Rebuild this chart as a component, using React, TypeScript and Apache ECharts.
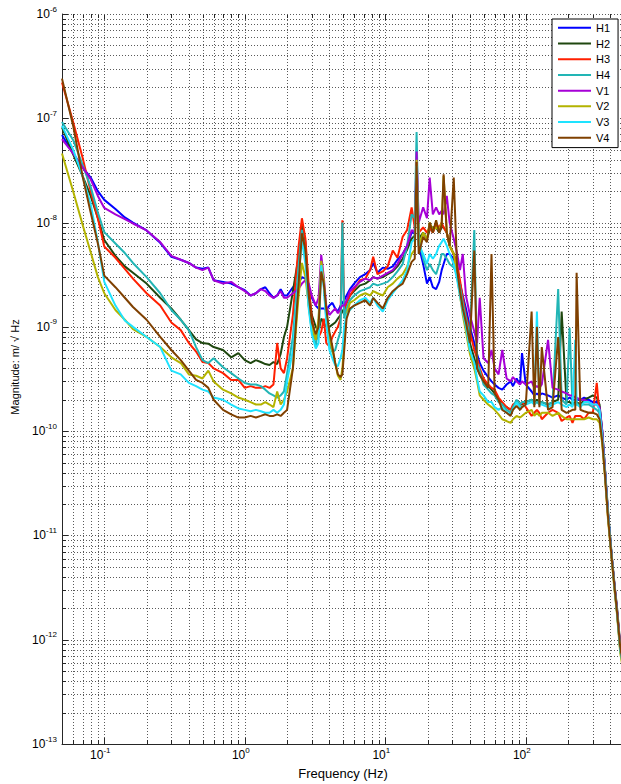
import React, { useEffect, useRef } from 'react';
import * as echarts from 'echarts';

// Frequency grid (Hz)
const freqs = [
  0.05, 0.06, 0.07, 0.08, 0.09, 0.1, 0.12, 0.14, 0.16, 0.2, 0.25, 0.3, 0.35, 0.4, 0.45, 0.5, 0.55, 0.6, 0.7, 0.8, 0.9, 1.0, 1.1, 1.2, 1.3, 1.4, 1.5, 1.6, 1.7, 1.8, 1.9,
  2.0, 2.2, 2.4, 2.55, 2.7, 2.85, 3.0, 3.2, 3.35, 3.5, 3.65, 3.8, 4.0, 4.2, 4.4, 4.6, 4.8, 4.95, 5.1, 5.3, 5.6, 6.0, 6.6, 7.2, 7.8, 8.2, 8.8, 9.6, 10.4, 11.3, 12.2, 13.3, 14.3, 15.4, 16.2, 16.7, 17.3, 18.6, 19.8, 20.7, 21.8, 23, 24.2, 25.2, 26, 27.4, 28.7, 30.7,
  32.5, 34, 35.6, 37.5, 40, 43, 45, 47, 50, 54, 57, 60, 64, 68, 73, 78, 81, 86, 91, 94, 100, 110, 115, 120, 125, 130, 144, 155, 170, 180, 195, 205, 215, 225, 230, 245, 260, 280, 300, 320, 335, 350, 365, 385, 410, 430, 445, 470, 500,
];

const h1 = [
  6.9e-8, 4.6e-8, 3.4e-8, 2.7e-8, 2.0e-8, 1.65e-8, 1.35e-8, 1.12e-8, 1.0e-8, 8.4e-9, 6.4e-9, 4.7e-9, 4.4e-9, 4.1e-9, 3.7e-9, 3.6e-9, 3.7e-9, 2.8e-9, 2.7e-9, 2.6e-9, 2.4e-9, 2.25e-9, 2.0e-9, 2.1e-9, 2.3e-9, 2.4e-9, 2.1e-9, 1.9e-9, 2.0e-9, 2.3e-9, 2.0e-9,
  2.0e-9, 2.4e-9, 2.6e-9, 3.0e-9, 2.9e-9, 2.4e-9, 1.9e-9, 1.6e-9, 1.5e-9, 1.5e-9, 1.5e-9, 1.45e-9, 1.6e-9, 1.7e-9, 1.5e-9, 1.4e-9, 1.6e-9, 1.7e-9, 1.8e-9, 2.0e-9, 2.3e-9, 2.6e-9, 3.0e-9, 3.2e-9, 3.5e-9, 4.1e-9, 3.3e-9, 3.7e-9, 3.6e-9, 3.8e-9, 4.4e-9, 5.0e-9, 6.0e-9, 8.0e-9, 8.0e-9, 3.0e-8, 6.0e-9, 4.0e-9, 2.6e-9, 3.0e-9, 2.4e-9, 2.3e-9, 2.7e-9, 3.5e-9, 4.0e-9, 5.0e-9, 5.0e-9, 4.5e-9,
  3.5e-9, 2.6e-9, 2.0e-9, 1.5e-9, 1.0e-9, 7.0e-10, 5.5e-10, 4.5e-10, 3.8e-10, 3.3e-10, 3.0e-10, 2.8e-10, 2.6e-10, 2.5e-10, 2.8e-10, 3.0e-10, 2.7e-10, 3.2e-10, 2.8e-10, 5.6e-10, 2.8e-10, 2.4e-10, 2.2e-10, 2.3e-10, 2.2e-10, 2.3e-10, 2.2e-10, 2.1e-10, 2.2e-10, 2.1e-10, 2.0e-10, 2.1e-10, 2.0e-10, 2.0e-10, 2.0e-10, 2.0e-10, 2.1e-10, 2.0e-10, 1.9e-10, 1.9e-10, 1.7e-10, 1.0e-10, 4.5e-11, 1.6e-11, 6.0e-12, 3.1e-12, 2.0e-12, 8.5e-13, 5.0e-13,
];

const h2 = [
  8.2e-8, 4.5e-8, 2.8e-8, 1.8e-8, 1.1e-8, 6.8e-9, 4.8e-9, 3.8e-9, 3.3e-9, 2.6e-9, 1.9e-9, 1.5e-9, 1.17e-9, 9.3e-10, 7.6e-10, 7.0e-10, 6.9e-10, 6.4e-10, 6.0e-10, 5.1e-10, 5.6e-10, 4.8e-10, 4.5e-10, 4.8e-10, 4.6e-10, 4.4e-10, 4.3e-10, 4.6e-10, 4.4e-10, 5.5e-10, 8.0e-10,
  1.0e-9, 2.2e-9, 4.5e-9, 9.9e-9, 6.5e-9, 2.2e-9, 1.3e-9, 1.0e-9, 9.0e-10, 1.2e-9, 1.1e-9, 1.0e-9, 1.0e-9, 1.05e-9, 1.1e-9, 1.2e-9, 1.3e-9, 1.4e-9, 1.5e-9, 1.7e-9, 2.0e-9, 2.2e-9, 2.5e-9, 2.6e-9, 2.8e-9, 3.0e-9, 2.9e-9, 3.0e-9, 3.2e-9, 3.4e-9, 3.8e-9, 4.5e-9, 5.5e-9, 7.0e-9, 7.5e-9, 3.2e-8, 7.0e-9, 8.0e-9, 7.0e-9, 8.5e-9, 9.0e-9, 9.0e-9, 8.0e-9, 9.0e-9, 9.0e-9, 8.0e-9, 6.0e-9, 5.0e-9,
  3.5e-9, 2.6e-9, 1.8e-9, 1.1e-9, 7.0e-10, 5.0e-10, 4.0e-10, 3.5e-10, 3.0e-10, 2.7e-10, 2.5e-10, 2.3e-10, 2.0e-10, 1.8e-10, 1.7e-10, 1.6e-10, 1.7e-10, 1.9e-10, 1.8e-10, 1.8e-10, 1.9e-10, 2.0e-10, 1.9e-10, 2.0e-10, 1.9e-10, 1.9e-10, 1.8e-10, 1.9e-10, 2.0e-10, 1.4e-9, 1.9e-10, 1.9e-10, 1.8e-10, 1.9e-10, 1.9e-10, 1.8e-10, 2.0e-10, 2.1e-10, 2.2e-10, 2.1e-10, 1.8e-10, 1.0e-10, 4.6e-11, 1.7e-11, 6.2e-12, 3.2e-12, 2.1e-12, 9.0e-13, 5.5e-13,
];

const h3 = [
  2.2e-7, 9.2e-8, 4.2e-8, 2.0e-8, 1.1e-8, 5.9e-9, 4.6e-9, 3.6e-9, 2.9e-9, 2.1e-9, 1.6e-9, 1.1e-9, 9.3e-10, 7.0e-10, 5.8e-10, 4.6e-10, 4.5e-10, 4.0e-10, 3.6e-10, 3.1e-10, 3.1e-10, 2.6e-10, 2.7e-10, 2.6e-10, 2.6e-10, 2.7e-10, 2.6e-10, 2.8e-10, 7.0e-10, 4.0e-10, 3.6e-10,
  5.0e-10, 1.3e-9, 5.5e-9, 1.1e-8, 7.0e-9, 2.5e-9, 1.2e-9, 7.5e-10, 8.0e-10, 9.0e-10, 1.2e-9, 7.0e-10, 6.5e-10, 8.0e-10, 9.0e-10, 1.0e-9, 1.2e-9, 1.05e-8, 1.4e-9, 1.7e-9, 2.0e-9, 2.3e-9, 2.8e-9, 2.9e-9, 3.5e-9, 4.7e-9, 3.2e-9, 3.4e-9, 3.8e-9, 5.4e-9, 4.6e-9, 7.3e-9, 8.5e-9, 1.4e-8, 9.0e-9, 3.0e-8, 8.0e-9, 9.0e-9, 8.0e-9, 9.0e-9, 8.0e-9, 9.5e-9, 9.0e-9, 1.0e-8, 9.0e-9, 8.0e-9, 6.0e-9, 5.0e-9,
  4.0e-9, 2.8e-9, 1.9e-9, 1.3e-9, 9.0e-10, 6.0e-10, 5.0e-10, 4.0e-10, 3.2e-10, 2.8e-10, 2.6e-10, 2.5e-10, 2.1e-10, 1.9e-10, 1.7e-10, 1.6e-10, 1.8e-10, 1.9e-10, 1.8e-10, 1.9e-10, 1.7e-10, 1.4e-10, 1.5e-10, 1.6e-10, 1.5e-10, 1.3e-10, 1.5e-10, 1.6e-10, 1.5e-10, 1.25e-10, 1.35e-10, 1.4e-10, 1.2e-10, 1.4e-10, 1.4e-10, 1.4e-10, 1.3e-10, 1.5e-10, 1.5e-10, 2.9e-10, 1.4e-10, 8.5e-11, 4.2e-11, 1.5e-11, 6.0e-12, 3.0e-12, 1.9e-12, 8.0e-13, 5.0e-13,
];

const h4 = [
  9.2e-8, 6.2e-8, 3.6e-8, 2.2e-8, 1.25e-8, 8.1e-9, 6.3e-9, 5.1e-9, 4.1e-9, 3.0e-9, 2.1e-9, 1.45e-9, 1.17e-9, 9.3e-10, 6.4e-10, 4.8e-10, 4.5e-10, 5.0e-10, 4.1e-10, 3.6e-10, 3.2e-10, 2.9e-10, 2.8e-10, 2.8e-10, 2.7e-10, 2.5e-10, 2.3e-10, 2.2e-10, 2.1e-10, 2.2e-10, 2.4e-10,
  3.6e-10, 8.0e-10, 3.5e-9, 8.5e-9, 5.0e-9, 1.6e-9, 9.0e-10, 6.5e-10, 1.1e-9, 4.1e-9, 2.5e-9, 1.2e-9, 7.0e-10, 5.7e-10, 6.0e-10, 7.5e-10, 9.0e-10, 1.0e-8, 1.2e-9, 1.5e-9, 1.8e-9, 2.0e-9, 2.2e-9, 2.3e-9, 2.4e-9, 2.6e-9, 2.5e-9, 2.6e-9, 2.7e-9, 3.0e-9, 3.4e-9, 4.0e-9, 6.0e-9, 1.2e-8, 1.1e-8, 7.4e-8, 7.0e-9, 4.5e-9, 3.5e-9, 4.0e-9, 3.5e-9, 3.2e-9, 4.0e-9, 5.0e-9, 5.0e-9, 4.5e-9, 4.0e-9, 3.7e-9,
  3.2e-9, 2.4e-9, 1.7e-9, 1.2e-9, 8.0e-10, 8.5e-9, 4.5e-10, 3.8e-10, 2.8e-10, 2.5e-10, 2.3e-10, 2.2e-10, 1.9e-10, 1.8e-10, 1.6e-10, 1.5e-10, 1.7e-10, 2.0e-10, 1.8e-10, 1.9e-10, 1.9e-10, 2.0e-10, 1.8e-10, 1.9e-10, 1.8e-10, 1.9e-10, 1.8e-10, 1.9e-10, 2.3e-9, 2.0e-10, 1.8e-10, 9.8e-10, 1.8e-10, 1.8e-10, 1.8e-10, 1.8e-10, 1.8e-10, 1.8e-10, 1.7e-10, 1.6e-10, 1.5e-10, 9.0e-11, 4.4e-11, 1.6e-11, 6.0e-12, 3.0e-12, 1.9e-12, 8.0e-13, 5.0e-13,
];

const v1 = [
  6.3e-8, 4.6e-8, 3.4e-8, 2.6e-8, 1.8e-8, 1.38e-8, 1.2e-8, 1.08e-8, 9.8e-9, 8.4e-9, 6.5e-9, 4.8e-9, 4.4e-9, 4.1e-9, 3.7e-9, 3.5e-9, 3.7e-9, 2.8e-9, 2.6e-9, 2.7e-9, 2.4e-9, 2.2e-9, 2.0e-9, 2.1e-9, 2.3e-9, 2.2e-9, 2.0e-9, 1.9e-9, 2.0e-9, 2.2e-9, 1.9e-9,
  1.9e-9, 2.1e-9, 2.3e-9, 2.6e-9, 2.8e-9, 2.6e-9, 2.0e-9, 1.6e-9, 1.9e-9, 4.9e-9, 3.0e-9, 1.6e-9, 1.3e-9, 1.4e-9, 1.5e-9, 1.35e-9, 1.5e-9, 1.6e-9, 1.6e-9, 1.8e-9, 2.2e-9, 2.4e-9, 2.7e-9, 2.9e-9, 2.8e-9, 3.0e-9, 2.9e-9, 3.1e-9, 3.3e-9, 3.5e-9, 4.0e-9, 5.0e-9, 6.0e-9, 8.5e-9, 8.0e-9, 4.8e-8, 1.0e-8, 1.4e-8, 1.1e-8, 2.7e-8, 1.2e-8, 1.4e-8, 1.2e-8, 1.3e-8, 1.2e-8, 1.8e-8, 1.0e-8, 7.0e-9,
  5.0e-9, 3.5e-9, 5.0e-9, 2.0e-9, 1.3e-9, 9.0e-10, 7.0e-10, 1.9e-9, 5.0e-10, 4.5e-10, 6.0e-10, 4.0e-10, 3.5e-10, 6.0e-10, 3.2e-10, 3.0e-10, 3.3e-10, 3.0e-10, 2.8e-10, 3.0e-10, 2.8e-10, 3.0e-10, 2.6e-10, 2.7e-10, 2.6e-10, 2.8e-10, 7.5e-10, 2.6e-10, 2.5e-10, 2.4e-10, 2.3e-10, 2.2e-10, 2.2e-10, 2.1e-10, 2.1e-10, 2.0e-10, 2.0e-10, 1.9e-10, 1.8e-10, 1.8e-10, 1.7e-10, 1.0e-10, 4.5e-11, 1.6e-11, 6.0e-12, 3.1e-12, 2.0e-12, 8.5e-13, 5.0e-13,
];

const v2 = [
  4.6e-8, 2.0e-8, 9.6e-9, 5.2e-9, 3.0e-9, 2.1e-9, 1.45e-9, 1.17e-9, 9.5e-10, 8.0e-10, 6.4e-10, 5.1e-10, 4.5e-10, 3.5e-10, 3.4e-10, 3.2e-10, 3.8e-10, 3.0e-10, 2.5e-10, 2.3e-10, 2.1e-10, 2.0e-10, 1.9e-10, 1.8e-10, 1.8e-10, 1.9e-10, 1.8e-10, 1.7e-10, 2.4e-10, 1.8e-10, 2.0e-10,
  2.4e-10, 4.0e-10, 1.8e-9, 4.1e-9, 3.0e-9, 1.6e-9, 1.0e-9, 7.5e-10, 1.2e-9, 4.3e-9, 2.8e-9, 1.4e-9, 8.0e-10, 6.0e-10, 4.5e-10, 3.4e-10, 3.1e-10, 4.0e-10, 7.0e-10, 1.3e-9, 1.7e-9, 1.8e-9, 2.0e-9, 2.1e-9, 2.0e-9, 2.2e-9, 2.1e-9, 2.0e-9, 2.4e-9, 2.6e-9, 2.9e-9, 3.2e-9, 3.8e-9, 5.0e-9, 5.5e-9, 4.0e-8, 6.0e-9, 8.0e-9, 7.0e-9, 1.0e-8, 8.5e-9, 9.0e-9, 8.5e-9, 1.0e-8, 2.8e-8, 8.0e-9, 6.0e-9, 5.0e-9,
  3.0e-9, 2.0e-9, 1.3e-9, 9.0e-10, 5.5e-10, 4.0e-10, 3.0e-10, 2.2e-10, 2.0e-10, 1.8e-10, 1.7e-10, 1.6e-10, 1.45e-10, 1.3e-10, 1.25e-10, 1.2e-10, 1.3e-10, 1.4e-10, 1.35e-10, 1.4e-10, 1.5e-10, 1.6e-10, 1.4e-10, 1.5e-10, 1.4e-10, 1.5e-10, 1.5e-10, 1.4e-10, 1.5e-10, 1.4e-10, 1.3e-10, 1.3e-10, 1.3e-10, 1.3e-10, 1.3e-10, 1.3e-10, 1.3e-10, 1.35e-10, 1.3e-10, 1.3e-10, 1.2e-10, 7.5e-11, 3.8e-11, 1.4e-11, 5.5e-12, 2.8e-12, 1.8e-12, 7.5e-13, 4.5e-13,
];

const v3 = [
  8.5e-8, 5.0e-8, 2.8e-8, 1.5e-8, 6.5e-9, 2.7e-9, 1.6e-9, 1.15e-9, 1.0e-9, 8.0e-10, 6.4e-10, 3.8e-10, 3.5e-10, 2.9e-10, 2.7e-10, 2.5e-10, 2.4e-10, 2.1e-10, 2.0e-10, 1.8e-10, 1.65e-10, 1.6e-10, 1.55e-10, 1.6e-10, 1.55e-10, 1.5e-10, 1.5e-10, 1.6e-10, 1.5e-10, 1.6e-10, 1.8e-10,
  3.0e-10, 6.0e-10, 2.8e-9, 6.8e-9, 4.0e-9, 1.5e-9, 8.5e-10, 6.2e-10, 7.0e-10, 3.9e-9, 2.4e-9, 1.1e-9, 6.0e-10, 5.0e-10, 4.3e-10, 4.2e-10, 5.0e-10, 6.0e-10, 1.0e-9, 1.3e-9, 1.45e-9, 1.6e-9, 1.8e-9, 1.9e-9, 1.7e-9, 1.9e-9, 1.6e-9, 1.4e-9, 1.8e-9, 2.1e-9, 2.4e-9, 2.8e-9, 3.5e-9, 6.5e-9, 7.0e-9, 3.5e-8, 6.0e-9, 5.0e-9, 4.0e-9, 5.0e-9, 4.5e-9, 5.0e-9, 6.0e-9, 6.5e-9, 7.0e-9, 6.0e-9, 5.0e-9, 4.0e-9,
  2.8e-9, 2.0e-9, 1.4e-9, 1.0e-9, 6.0e-10, 4.5e-10, 3.2e-10, 2.4e-10, 2.2e-10, 1.9e-10, 1.9e-10, 1.7e-10, 1.6e-10, 1.7e-10, 1.5e-10, 1.45e-10, 1.6e-10, 1.9e-10, 1.7e-10, 1.7e-10, 1.8e-10, 1.9e-10, 1.8e-10, 1.4e-9, 1.8e-10, 1.8e-10, 1.7e-10, 1.8e-10, 1.9e-10, 1.8e-10, 1.7e-10, 1.8e-10, 1.7e-10, 7.5e-10, 1.8e-10, 1.7e-10, 1.9e-10, 1.9e-10, 1.8e-10, 1.8e-10, 1.6e-10, 9.0e-11, 4.3e-11, 1.6e-11, 6.0e-12, 3.0e-12, 1.9e-12, 8.0e-13, 5.0e-13,
];

const v4 = [
  2.4e-7, 8.5e-8, 2.8e-8, 1.25e-8, 6.3e-9, 3.1e-9, 2.4e-9, 1.9e-9, 1.55e-9, 1.17e-9, 8.0e-10, 6.0e-10, 4.8e-10, 3.8e-10, 3.1e-10, 2.9e-10, 2.6e-10, 2.0e-10, 1.6e-10, 1.45e-10, 1.35e-10, 1.35e-10, 1.4e-10, 1.35e-10, 1.4e-10, 1.45e-10, 1.4e-10, 1.4e-10, 1.45e-10, 1.4e-10, 1.5e-10,
  1.6e-10, 4.0e-10, 2.3e-9, 7.9e-9, 5.5e-9, 2.0e-9, 1.1e-9, 8.5e-10, 1.0e-9, 3.4e-9, 2.6e-9, 1.5e-9, 9.0e-10, 6.5e-10, 4.5e-10, 3.5e-10, 3.3e-10, 3.5e-10, 6.0e-10, 1.2e-9, 1.5e-9, 1.6e-9, 1.7e-9, 1.8e-9, 1.6e-9, 1.9e-9, 1.7e-9, 1.5e-9, 1.9e-9, 2.2e-9, 2.4e-9, 2.6e-9, 3.2e-9, 4.2e-9, 4.5e-9, 3.8e-8, 5.0e-9, 7.3e-9, 6.5e-9, 1.0e-8, 8.0e-9, 1.05e-8, 8.0e-9, 9.5e-9, 2.9e-8, 8.0e-9, 6.0e-9, 2.7e-8,
  3.5e-9, 2.2e-9, 1.5e-9, 1.1e-9, 7.0e-10, 5.4e-9, 4.0e-10, 3.5e-10, 3.0e-10, 2.6e-10, 5.0e-9, 2.3e-10, 2.0e-10, 1.6e-10, 1.5e-10, 1.4e-10, 1.6e-10, 1.75e-10, 1.6e-10, 1.7e-10, 1.8e-10, 1.4e-9, 1.7e-10, 1.0e-9, 1.7e-10, 6.4e-10, 1.6e-10, 1.7e-10, 8.0e-10, 1.6e-10, 1.5e-10, 1.55e-10, 1.6e-10, 1.6e-10, 3.3e-9, 1.6e-10, 1.55e-10, 1.5e-10, 1.5e-10, 1.45e-10, 1.3e-10, 8.0e-11, 4.0e-11, 1.5e-11, 5.8e-12, 3.0e-12, 1.9e-12, 8.5e-13, 5.0e-13,
];

const seriesNames = ['H1', 'H2', 'H3', 'H4', 'V1', 'V2', 'V3', 'V4'];
const seriesValues = [h1, h2, h3, h4, v1, v2, v3, v4];
const seriesColors = ['#0000ff', '#1f470f', '#ff1f00', '#22b5b5', '#a600d6', '#b3b300', '#1ee3ff', '#7f4000'];

const X_MIN = 0.05;
const X_MAX = 500;
const Y_MIN = 1e-13;
const Y_MAX = 1e-6;

const FONT = '"Liberation Sans", Arial, Helvetica, sans-serif';

// log-axis decoration positions (1..9 x 10^n)
const xTicks: { v: number; major: boolean }[] = [];
for (let e = -2; e <= 2; e++) {
  for (let m = 1; m <= 9; m++) {
    const v = m * Math.pow(10, e);
    if (v > X_MIN * 1.001 && v < X_MAX * 0.999) xTicks.push({ v, major: m === 1 });
  }
}
const yTicks: { v: number; major: boolean }[] = [];
for (let e = -13; e <= -6; e++) {
  for (let m = 1; m <= 9; m++) {
    const v = m * Math.pow(10, e);
    if (v > Y_MIN * 1.001 && v < Y_MAX * 1.001) yTicks.push({ v, major: m === 1 });
  }
}

const powLabel = (v: number) => `{b|10}{s|${Math.round(Math.log10(v))}}`;
const labelRich = {
  b: { fontSize: 12, lineHeight: 12, color: '#000', fontFamily: FONT },
  s: { fontSize: 8, lineHeight: 8, padding: [0, 0, 10, 0], color: '#000', fontFamily: FONT },
};

export default function App() {
  const ref = useRef<HTMLDivElement>(null);

  useEffect(() => {
    if (!ref.current) return;
    const chart = echarts.init(ref.current, null, { renderer: 'svg' });

    const renderGrid = (params: any, api: any) => {
      const cs = params.coordSys;
      const left = cs.x;
      const top = cs.y;
      const right = cs.x + cs.width;
      const bottom = cs.y + cs.height;
      const children: any[] = [];
      const gridStyle = { stroke: '#5a5a5a', lineWidth: 1, lineDash: [1, 2], fill: null };
      const tickStyle = { stroke: '#262626', lineWidth: 1, fill: null };
      xTicks.forEach(({ v, major }) => {
        const x = Math.round(api.coord([v, 1e-9])[0]) + 0.5;
        const len = major ? 6 : 4;
        children.push({ type: 'line', shape: { x1: x, y1: top, x2: x, y2: bottom }, style: gridStyle });
        children.push({ type: 'line', shape: { x1: x, y1: bottom, x2: x, y2: bottom - len }, style: tickStyle });
        children.push({ type: 'line', shape: { x1: x, y1: top, x2: x, y2: top + len }, style: tickStyle });
      });
      yTicks.forEach(({ v, major }) => {
        const y = Math.round(api.coord([1, v])[1]) + 0.5;
        const len = major ? 6 : 4;
        children.push({ type: 'line', shape: { x1: left, y1: y, x2: right, y2: y }, style: gridStyle });
        children.push({ type: 'line', shape: { x1: left, y1: y, x2: left + len, y2: y }, style: tickStyle });
      });
      return { type: 'group', children };
    };

    const lineSeries = seriesNames.map((name, i) => ({
      name,
      type: 'line',
      data: freqs.map((f, j) => [f, seriesValues[i][j]]),
      showSymbol: false,
      symbol: 'none',
      lineStyle: { width: 2, color: seriesColors[i] },
      itemStyle: { color: seriesColors[i] },
      color: seriesColors[i],
      silent: true,
      z: 3,
      emphasis: { disabled: true },
    }));

    const option: any = {
      animation: false,
      backgroundColor: '#fff',
      textStyle: { fontFamily: FONT },
      grid: { left: 62, right: -3, top: 14, bottom: 40, containLabel: false, outerBoundsMode: 'none' },
      legend: {
        data: seriesNames,
        orient: 'vertical',
        left: 552,
        top: 19,
        icon: 'rect',
        itemWidth: 33,
        itemHeight: 2,
        itemGap: 0,
        padding: [1, 8, 2, 6],
        backgroundColor: '#fff',
        borderColor: '#000',
        borderWidth: 1,
        borderRadius: 0,
        selectedMode: false,
        textStyle: { fontFamily: FONT, fontSize: 11, color: '#000', lineHeight: 15.7 },
        z: 10,
      },
      xAxis: {
        type: 'log',
        logBase: 10,
        min: X_MIN,
        max: X_MAX,
        axisLine: { show: true, lineStyle: { color: '#262626', width: 1 } },
        axisTick: { show: false },
        splitLine: { show: false },
        minorTick: { show: false },
        minorSplitLine: { show: false },
        axisLabel: {
          show: true,
          margin: 5,
          showMinLabel: false,
          showMaxLabel: false,
          padding: [0, 8, 0, 0],
          formatter: powLabel,
          rich: labelRich,
        },
      },
      yAxis: {
        type: 'log',
        logBase: 10,
        min: Y_MIN,
        max: Y_MAX,
        splitNumber: 7,
        axisLine: { show: true, lineStyle: { color: '#262626', width: 1 } },
        axisTick: { show: false },
        splitLine: { show: false },
        minorTick: { show: false },
        minorSplitLine: { show: false },
        axisLabel: {
          show: true,
          margin: 5,
          formatter: powLabel,
          rich: labelRich,
        },
      },
      graphic: [
        {
          type: 'text',
          x: 343,
          y: 773,
          silent: true,
          style: {
            text: 'Frequency (Hz)',
            font: `13px ${FONT}`,
            fill: '#000',
            align: 'center',
            verticalAlign: 'middle',
            textAlign: 'center',
            textVerticalAlign: 'middle',
          },
        },
        {
          type: 'text',
          x: 15,
          y: 367,
          rotation: Math.PI / 2,
          silent: true,
          style: {
            text: 'Magnitude: m/ √ Hz',
            font: `11px ${FONT}`,
            fill: '#000',
            align: 'center',
            verticalAlign: 'middle',
            textAlign: 'center',
            textVerticalAlign: 'middle',
          },
        },
      ],
      series: [
        {
          type: 'custom',
          coordinateSystem: 'cartesian2d',
          data: [[1, 1e-9]],
          renderItem: renderGrid,
          silent: true,
          clip: false,
          z: 1,
        },
        ...lineSeries,
      ],
    };

    chart.setOption(option);
    return () => chart.dispose();
  }, []);

  return (
    <div
      ref={ref}
      style={{ position: 'absolute', left: 0, top: 0, width: 621, height: 784, background: '#fff', overflow: 'hidden' }}
    />
  );
}
